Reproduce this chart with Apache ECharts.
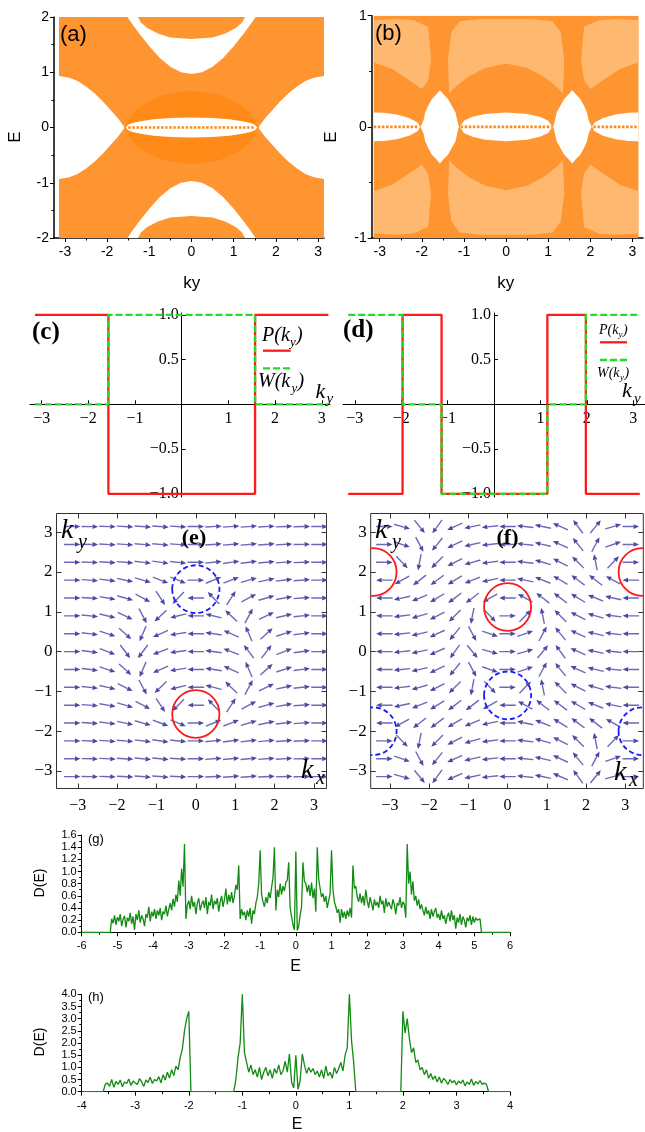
<!DOCTYPE html>
<html><head><meta charset="utf-8">
<script src="https://cdn.jsdelivr.net/npm/echarts@6/dist/echarts.min.js"></script>
<style>html,body{margin:0;padding:0;background:#fff;}#c{width:645px;height:1132px;}</style>
</head><body><div id="c"></div>
<script>
// ---------- (a) band regions (ky, E) ----------
const aSpanK = [-3.1416, 3.1416];
const aSpanE = [-2, 2];
const aLeftK = [-3.1416, -2.9, -2.7, -2.5, -2.3, -2.1, -1.9, -1.75, -1.6];
const aLeftTop = [0.93, 0.90, 0.84, 0.74, 0.62, 0.47, 0.30, 0.17, 0.02];
const aLeftBot = [-0.93, -0.90, -0.84, -0.74, -0.62, -0.47, -0.30, -0.17, -0.02];
const aRightK = [1.6, 1.75, 1.9, 2.1, 2.3, 2.5, 2.7, 2.9, 3.1416];
const aRightTop = [0.02, 0.17, 0.30, 0.47, 0.62, 0.74, 0.84, 0.90, 0.93];
const aRightBot = [-0.02, -0.17, -0.30, -0.47, -0.62, -0.74, -0.84, -0.90, -0.93];
const aBowlK = [-1.52, -1.4, -1.25, -1.0, -0.75, -0.5, -0.25, 0, 0.25, 0.5, 0.75, 1.0, 1.25, 1.4, 1.52];
const aBowlTop = [2.0, 1.87, 1.71, 1.47, 1.26, 1.10, 1.00, 0.97, 1.00, 1.10, 1.26, 1.47, 1.71, 1.87, 2.0];
const aBowlBot = [-2.0, -1.87, -1.71, -1.47, -1.26, -1.10, -1.00, -0.97, -1.00, -1.10, -1.26, -1.47, -1.71, -1.87, -2.0];
const aCapK = [-1.27, -1.2, -1.05, -0.8, -0.5, 0, 0.5, 0.8, 1.05, 1.2, 1.27];
const aCapTop = [2.0, 1.9, 1.8, 1.7, 1.63, 1.6, 1.63, 1.7, 1.8, 1.9, 2.0];
const aCapBot = [-2.0, -1.9, -1.8, -1.7, -1.63, -1.6, -1.63, -1.7, -1.8, -1.9, -2.0];
const aDomeK = [-1.57, -1.45, -1.25, -1.0, -0.7, -0.35, 0, 0.35, 0.7, 1.0, 1.25, 1.45, 1.57];
const aDomeTop = [0, 0.2, 0.36, 0.48, 0.58, 0.64, 0.66, 0.64, 0.58, 0.48, 0.36, 0.2, 0];
const aDomeBot = [0, -0.2, -0.36, -0.48, -0.58, -0.64, -0.66, -0.64, -0.58, -0.48, -0.36, -0.2, 0];
const aLensK = [-1.56, -1.5, -1.4, -1.2, -0.9, -0.5, 0, 0.5, 0.9, 1.2, 1.4, 1.5, 1.56];
const aLensTop = [0, 0.05, 0.08, 0.115, 0.15, 0.17, 0.18, 0.17, 0.15, 0.115, 0.08, 0.05, 0];
const aLensBot = [0, -0.05, -0.08, -0.115, -0.15, -0.17, -0.18, -0.17, -0.15, -0.115, -0.08, -0.05, 0];
const aFlatK = [-1.5, 1.5];
const aFlatE = [0, 0];

// ---------- (b) band regions ----------
const bSpanK = [-3.1416, 3.1416];
const bSpanE = [-1, 1];
const bU1K = [-1.35, -1.2, -0.9, -0.5, 0, 0.5, 0.9, 1.2, 1.35, 1.38, 1.3, 1.1, 0.6, 0, -0.6, -1.1, -1.3, -1.38];
const bU1E = [0.30, 0.36, 0.45, 0.53, 0.57, 0.53, 0.45, 0.36, 0.30, 0.6, 0.85, 0.95, 0.97, 0.97, 0.97, 0.95, 0.85, 0.6];
const bL1E = [-0.30, -0.36, -0.45, -0.53, -0.57, -0.53, -0.45, -0.36, -0.30, -0.6, -0.85, -0.95, -0.97, -0.97, -0.97, -0.95, -0.85, -0.6];
const bU2K = [-3.1416, -2.6, -2.2, -1.85, -1.78, -1.85, -2.0, -2.3, -2.7, -3.1416];
const bU3K = [3.1416, 2.6, 2.2, 1.85, 1.78, 1.85, 2.0, 2.3, 2.7, 3.1416];
const bU2E = [0.96, 0.97, 0.96, 0.9, 0.6, 0.42, 0.34, 0.42, 0.52, 0.58];
const bL2E = [-0.96, -0.97, -0.96, -0.9, -0.6, -0.42, -0.34, -0.42, -0.52, -0.58];
const bDiamLK = [-2.03, -1.96, -1.92, -1.85, -1.76, -1.66, -1.57, -1.48, -1.38, -1.29, -1.2, -1.16, -1.12];
const bDiamRK = [1.12, 1.16, 1.2, 1.29, 1.38, 1.48, 1.57, 1.66, 1.76, 1.85, 1.92, 1.96, 2.03];
const bDiamTop = [0, 0.06, 0.13, 0.19, 0.25, 0.29, 0.33, 0.29, 0.25, 0.19, 0.13, 0.06, 0];
const bDiamBot = [0, -0.06, -0.13, -0.19, -0.25, -0.29, -0.33, -0.29, -0.25, -0.19, -0.13, -0.06, 0];
const bLensCK = [-1.1, -1.0, -0.8, -0.5, 0, 0.5, 0.8, 1.0, 1.1];
const bLensCTop = [0, 0.055, 0.09, 0.115, 0.13, 0.115, 0.09, 0.055, 0];
const bLensCBot = [0, -0.055, -0.09, -0.115, -0.13, -0.115, -0.09, -0.055, 0];
const bLensLK = [-3.1416, -2.9, -2.6, -2.3, -2.1, -2.04];
const bLensRK = [3.1416, 2.9, 2.6, 2.3, 2.1, 2.04];
const bLensETop = [0.13, 0.127, 0.112, 0.08, 0.04, 0];
const bLensEBot = [-0.13, -0.127, -0.112, -0.08, -0.04, 0];
const bFlatSegK = [[-3.1416, -2.07], [-1.08, 1.08], [2.07, 3.1416]];

// ---------- (c), (d) step curves ----------
const cPK = [-3.1416, -1.571, -1.571, 1.571, 1.571, 3.1416];
const cPV = [1, 1, -1, -1, 1, 1];
const cWK = [-3.1416, -1.571, -1.571, 1.571, 1.571, 3.1416];
const cWV = [0, 0, 1, 1, 0, 0];
const dPK = [-3.1416, -1.97, -1.97, -1.13, -1.13, 1.15, 1.15, 1.98, 1.98, 3.1416];
const dPV = [-1, -1, 1, 1, -1, -1, 1, 1, -1, -1];
const dWK = [-3.1416, -1.97, -1.97, -1.13, -1.13, 1.15, 1.15, 1.98, 1.98, 3.1416];
const dWV = [1, 1, 0, 0, -1, -1, 0, 0, 1, 1];

// ---------- (e), (f) vector fields: grid points and arrow angles (deg) ----------
const gridK = [-3.1416, -2.6928, -2.2440, -1.7952, -1.3464, -0.8976, -0.4488, 0, 0.4488, 0.8976, 1.3464, 1.7952, 2.2440, 2.6928, 3.1416];
const eAngleRows = [
  [0,-1,-2,-3,-4,-4,-3,0,3,4,4,3,2,1,0],
  [0,-1,-3,-4,-5,-5,-4,0,4,5,5,4,3,1,0],
  [0,-2,-4,-5,-7,-8,-6,0,6,8,7,5,4,2,0],
  [0,-4,-7,-12,-16,-21,-22,0,22,21,16,12,7,4,0],
  [0,-4,-10,-16,-28,-57,-134,180,134,57,28,16,10,4,0],
  [0,-6,-13,-26,-62,-136,-166,180,166,136,62,26,13,6,0],
  [0,-7,-18,-42,-113,-156,-171,180,171,156,113,42,18,7,0],
  [0,-8,-21,-53,-127,-159,-172,180,172,159,127,53,21,8,0],
  [0,-7,-18,-42,-113,-156,-171,180,171,156,113,42,18,7,0],
  [0,-6,-13,-26,-62,-136,-166,180,166,136,62,26,13,6,0],
  [0,-4,-10,-16,-28,-57,-134,180,134,57,28,16,10,4,0],
  [0,-4,-7,-12,-16,-21,-22,0,22,21,16,12,7,4,0],
  [0,-2,-4,-5,-7,-8,-6,0,6,8,7,5,4,2,0],
  [0,-1,-3,-4,-5,-5,-4,0,4,5,5,4,3,1,0],
  [0,-1,-2,-3,-4,-4,-3,0,3,4,4,3,2,1,0]
];
const fAngleRows = [
  [0,-16,-51,-126,-156,-168,-174,180,174,168,156,126,51,16,0],
  [0,-19,-62,-129,-155,-167,-174,180,174,167,155,129,62,19,0],
  [0,-46,-101,-135,-153,-164,-173,180,173,164,153,135,101,46,0],
  [180,-151,-142,-143,-149,-158,-168,180,168,158,149,143,142,151,180],
  [180,-168,-158,-149,-143,-142,-151,180,151,142,143,149,158,168,180],
  [180,-173,-164,-153,-135,-101,-46,0,46,101,135,153,164,173,180],
  [180,-174,-167,-155,-129,-62,-19,0,19,62,129,155,167,174,180],
  [180,-174,-168,-156,-126,-51,-16,0,16,51,126,156,168,174,180],
  [180,-174,-167,-155,-129,-62,-19,0,19,62,129,155,167,174,180],
  [180,-173,-164,-153,-135,-101,-46,0,46,101,135,153,164,173,180],
  [180,-168,-158,-149,-143,-142,-151,180,151,142,143,149,158,168,180],
  [180,-151,-142,-143,-149,-158,-168,180,168,158,149,143,142,151,180],
  [0,-46,-101,-135,-153,-164,-173,180,173,164,153,135,101,46,0],
  [0,-19,-62,-129,-155,-167,-174,180,174,167,155,129,62,19,0],
  [0,-16,-51,-126,-156,-168,-174,180,174,168,156,126,51,16,0]
];
const circR = 0.6;
const eCircX = [0, 0], eCircY = [1.57, -1.57], eCircKind = ['blue', 'red'];
const fCircX = [0, 0, -3.43, 3.43, -3.43, 3.43], fCircY = [1.12, -1.1, 2, 2, -2, -2];
const fCircKind = ['red', 'blue', 'red', 'red', 'blue', 'blue'];

// ---------- (g), (h) density of states ----------
const gOuter = [-6, 6];
const gStart = -5.2, gStep = 0.04;
const gD = [
0,0.22,0.15,0.28,0.12,0.25,0.18,0.30,0.10,0.22,0.27,0.08,0.24,0.18,0.32,0.14,0.26,0.04,0.30,0.20,0.36,0.16,0.28,0.22,0.10,
0.30,0.24,0.42,0.18,0.34,0.26,0.38,0.22,0.36,0.28,0.40,0.20,0.34,0.30,0.44,0.26,0.38,0.48,0.36,0.55,0.42,0.62,0.50,0.85,0.60,
1.05,0.75,1.45,0.22,0.45,0.52,0.38,0.60,0.42,0.50,0.30,0.48,0.56,0.36,0.46,0.52,0.40,0.58,0.30,0.50,0.44,0.62,0.38,0.52,0.46,
0.56,0.34,0.50,0.60,0.42,0.54,0.72,0.46,0.62,0.50,0.66,0.48,0.60,0.78,0.70,1.10,0.22,0.38,0.28,0.34,0.20,0.36,0.26,0.40,0.14,
0.36,0.30,0.48,0.58,0.80,1.35,0.62,0.50,0.42,0.58,0.48,0.66,0.56,0.74,0.90,1.40,0.36,0.70,0.58,0.80,0.62,0.76,0.68,0.82,0.86,
1.15,0.40,0.26,0.12,0.04,1.33,0.03,0.10,0.28,0.42,1.15,0.84,0.80,0.66,0.78,0.60,0.82,0.56,0.72,0.34,1.40,0.88,0.72,0.58,0.64,
0.50,0.60,0.40,0.52,0.64,1.35,0.70,0.50,0.42,0.32,0.38,0.16,0.38,0.24,0.34,0.22,0.36,0.26,0.40,0.24,1.10,0.72,0.76,0.58,0.50,
0.64,0.48,0.60,0.44,0.70,0.52,0.40,0.58,0.48,0.36,0.54,0.44,0.50,0.40,0.60,0.46,0.52,0.32,0.56,0.42,0.50,0.44,0.38,0.54,0.46,
0.30,0.48,0.44,0.58,0.40,0.50,0.46,0.24,1.45,0.80,1.00,0.62,0.84,0.52,0.60,0.44,0.54,0.38,0.46,0.36,0.28,0.42,0.30,0.36,0.22,
0.38,0.26,0.34,0.40,0.24,0.30,0.20,0.36,0.22,0.28,0.14,0.26,0.32,0.18,0.36,0.20,0.28,0.06,0.24,0.16,0.30,0.12,0.26,0.20,0.08,
0.24,0.18,0.28,0.12,0.26,0.16,0.24,0.20,0.18,0.22,0
];
const hOuter = [-4, 4];
const hStart = -3.6, hStep = 0.04;
const hD = [
0,0.30,0.36,0.22,0.50,0.18,0.42,0.30,0.48,0.20,0.40,0.34,0.52,0.26,0.44,0.36,0.30,0.54,0.40,0.22,0.48,0.38,0.60,0.34,0.50,
0.44,0.62,0.36,0.70,0.48,0.80,0.56,0.90,0.66,1.05,0.90,1.40,1.75,2.50,3.00,3.30,0,0,0,0,0,0,0,0,0,
0,0,0,0,0,0,0,0,0,0,0,0,0.50,1.40,2.00,4.00,1.60,1.20,0.80,1.10,0.70,0.90,0.60,1.00,0.50,
0.80,1.00,0.65,0.90,0.55,0.95,0.75,1.10,0.70,0.85,1.25,0.80,1.55,0.40,0.15,1.50,0.10,0.45,1.55,1.10,0.75,1.00,0.80,0.95,0.70,
0.85,0.60,0.90,0.55,1.05,0.65,0.80,0.55,1.00,0.75,0.95,1.20,0.85,1.50,1.80,4.00,2.10,1.20,0,0,0,0,0,0,0,
0,0,0,0,0,0,0,0,0,0,0,0,0,0,0,3.30,2.40,3.00,2.20,1.60,1.80,1.20,1.30,0.90,1.00,
0.70,0.90,0.55,0.75,0.50,0.65,0.40,0.60,0.35,0.55,0.45,0.30,0.50,0.36,0.46,0.28,0.44,0.34,0.48,0.24,0.40,0.30,0.52,0.26,0.42,
0.32,0.46,0.30,0.36,0.30,0
];

// ---------- tick labels ----------
const tickAB_X = [-3, -2, -1, 0, 1, 2, 3];
const tickAB_Xminor = [-2.5, -1.5, -0.5, 0.5, 1.5, 2.5];
const tickA_Y = [-2, -1, 0, 1, 2];
const tickA_Yminor = [-1.5, -0.5, 0.5, 1.5];
const tickB_Y = [-1, 0, 1];
const tickB_Yminor = [-0.5, 0.5];
const tickCD_X = [-3, -2, -1, 1, 2, 3];
const tickCD_Y = [-1, -0.5, 0.5, 1];
const tickEF = [-3, -2, -1, 0, 1, 2, 3];

// ---------- build ----------
const SANS = '"Liberation Sans", Arial, sans-serif';
const SERIF = '"Liberation Serif", "Times New Roman", serif';
const OR_BG = '#ff9530', OR_DENSE = '#ff8a18', OR_LIGHT = '#ffb870';
const ARROW = '#4a4aa2';
const minusFmt = v => (v < 0 ? '\u2212' : '') + Math.abs(v);
const minusFmt1 = v => (v < 0 ? '\u2212' : '') + Math.abs(v).toFixed(1);

function polyS(gi, xs, ys, fill) {
  return { type: 'custom', xAxisIndex: gi, yAxisIndex: gi, clip: true, silent: true,
    data: [[xs[0], ys[0]]],
    renderItem: (p, api) => ({ type: 'polygon',
      shape: { points: xs.map((x, i) => api.coord([x, ys[i]])) },
      style: { fill: fill } }) };
}
function bandS(gi, K, top, bot, fill) {
  return polyS(gi, K.concat(K.slice().reverse()), top.concat(bot.slice().reverse()), fill);
}
function lineS(gi, xs, ys, color, width, dash) {
  return { type: 'line', xAxisIndex: gi, yAxisIndex: gi, symbol: 'none', silent: true,
    data: xs.map((x, i) => [x, ys[i]]),
    lineStyle: { color: color, width: width, type: dash || 'solid' } };
}
function arrowS(gi, rows) {
  const data = [];
  rows.forEach((row, r) => row.forEach((a, i) => data.push([gridK[i], gridK[r], a])));
  return { type: 'custom', xAxisIndex: gi, yAxisIndex: gi, clip: true, silent: true, data: data,
    renderItem: (p, api) => {
      const c = api.coord([api.value(0), api.value(1)]);
      const a = api.value(2) * Math.PI / 180;
      const L = 16.5, hl = 5.5, hw = 2.4;
      const ux = Math.cos(a), uy = -Math.sin(a);
      const x0 = c[0] - ux * L / 2, y0 = c[1] - uy * L / 2;
      const x1 = c[0] + ux * L / 2, y1 = c[1] + uy * L / 2;
      const bx = x1 - ux * hl, by = y1 - uy * hl;
      return { type: 'group', children: [
        { type: 'line', shape: { x1: x0, y1: y0, x2: bx, y2: by }, style: { stroke: '#6a6ab8', lineWidth: 1.4 } },
        { type: 'polygon', shape: { points: [[x1, y1], [bx - uy * hw, by + ux * hw], [bx + uy * hw, by - ux * hw]] }, style: { fill: ARROW } }
      ] };
    } };
}
function circS(gi, xs, ys, kinds) {
  return { type: 'custom', xAxisIndex: gi, yAxisIndex: gi, clip: true, silent: true,
    data: xs.map((x, i) => [x, ys[i], i]),
    renderItem: (p, api) => {
      const c = api.coord([api.value(0), api.value(1)]);
      const r = api.size([circR, circR]);
      const k = kinds[api.value(2)];
      return { type: 'ellipse', shape: { cx: c[0], cy: c[1], rx: r[0], ry: r[1] },
        style: { fill: 'none', stroke: k === 'red' ? '#ff1a1a' : '#1a1aff', lineWidth: 1.8,
          lineDash: k === 'red' ? null : [5, 3] } };
    } };
}
function ax(o) {
  return {
    type: 'value', gridIndex: o.g, min: o.min, max: o.max, position: o.pos,
    interval: o.interval, offset: o.offset || 0,
    splitLine: { show: false }, splitArea: { show: false },
    axisLine: { show: o.line !== false, onZero: false, lineStyle: { color: '#000', width: o.lw || 1 } },
    axisTick: { show: o.ticks !== false, customValues: Array.isArray(o.ticks) ? o.ticks : undefined,
      inside: !!o.inside, length: o.tl || 4, lineStyle: { color: o.tc || '#000', width: 1 } },
    axisLabel: { show: o.labels !== false, customValues: Array.isArray(o.labels) ? o.labels : undefined,
      margin: o.m == null ? 6 : o.m, formatter: o.fmt, color: '#000', fontFamily: o.ff || SANS, fontSize: o.fs || 12 },
    minorTick: { show: !!o.minor, splitNumber: o.minor || 5, length: 2.5, lineStyle: { color: '#000', width: 1 } }
  };
}
function gridBox(l, t, w, h, frame) {
  return { left: l, top: t, width: w, height: h, containLabel: false, outerBoundsMode: 'none',
    show: !!frame, borderColor: '#333', borderWidth: 1, backgroundColor: 'transparent' };
}

const grids = [
  gridBox(54, 17, 270, 221),
  gridBox(371.7, 15.7, 271.3, 222.3),
  gridBox(30, 313, 300, 184),
  gridBox(343, 313, 302, 184),
  gridBox(56.5, 513.5, 270, 275, true),
  gridBox(370.7, 513.5, 272.6, 275, true),
  gridBox(81.7, 835, 428.3, 97.3),
  gridBox(81.7, 994.3, 428.3, 97.4)
];
// (c),(d): axes cross at the origin (zero of y at 404.3px, zero of x at 181.7px / 494px)
const xAxes = [
  ax({ g: 0, min: -3.26, max: 3.1416, pos: 'bottom', lw: 1.5, ticks: tickAB_X, labels: tickAB_X, fs: 14, m: 7 }),
  ax({ g: 1, min: -3.19, max: 3.25, pos: 'bottom', lw: 1.5, ticks: tickAB_X, labels: tickAB_X, fs: 14, m: 7 }),
  ax({ g: 2, min: -3.25, max: 3.176, pos: 'bottom', offset: -92.7, ticks: tickCD_X, inside: true, labels: tickCD_X, fmt: minusFmt, ff: SERIF, fs: 16, m: 6 }),
  ax({ g: 3, min: -3.254, max: 3.254, pos: 'bottom', offset: -92.7, ticks: tickCD_X, inside: true, labels: tickCD_X, fmt: minusFmt, ff: SERIF, fs: 16, m: 6 }),
  ax({ g: 4, min: -3.54, max: 3.32, pos: 'bottom', line: false, ticks: tickEF, inside: true, tl: 5, tc: '#333', labels: tickEF, fmt: minusFmt, ff: SERIF, fs: 16, m: 9 }),
  ax({ g: 5, min: -3.49, max: 3.46, pos: 'bottom', line: false, ticks: tickEF, inside: true, tl: 5, tc: '#333', labels: tickEF, fmt: minusFmt, ff: SERIF, fs: 16, m: 9 }),
  ax({ g: 6, min: -6, max: 6, interval: 1, pos: 'bottom', minor: 2, fs: 11, m: 8 }),
  ax({ g: 7, min: -4, max: 4, interval: 1, pos: 'bottom', minor: 2, fs: 11, m: 9 }),
  ax({ g: 4, min: -3.54, max: 3.32, pos: 'top', line: false, ticks: tickEF, inside: true, tl: 5, tc: '#333', labels: false }),
  ax({ g: 5, min: -3.49, max: 3.46, pos: 'top', line: false, ticks: tickEF, inside: true, tl: 5, tc: '#333', labels: false }),
  ax({ g: 0, min: -3.26, max: 3.1416, pos: 'bottom', line: false, ticks: tickAB_Xminor, tl: 2.5, labels: false }),
  ax({ g: 1, min: -3.19, max: 3.25, pos: 'bottom', line: false, ticks: tickAB_Xminor, tl: 2.5, labels: false })
];
const yAxes = [
  ax({ g: 0, min: -2, max: 2, pos: 'left', lw: 1.5, ticks: tickA_Y, labels: tickA_Y, fs: 14, m: 5 }),
  ax({ g: 1, min: -1, max: 1, pos: 'left', lw: 1.5, ticks: tickB_Y, labels: tickB_Y, fs: 14, m: 5 }),
  ax({ g: 2, min: -1.036, max: 1.02, pos: 'left', offset: -151.7, ticks: tickCD_Y, inside: true, labels: tickCD_Y, fmt: minusFmt1, ff: SERIF, fs: 16, m: 3 }),
  ax({ g: 3, min: -1.036, max: 1.02, pos: 'left', offset: -151, ticks: tickCD_Y, inside: true, labels: tickCD_Y, fmt: minusFmt1, ff: SERIF, fs: 16, m: 3 }),
  ax({ g: 4, min: -3.44, max: 3.47, pos: 'left', line: false, ticks: tickEF, inside: true, tl: 5, tc: '#333', labels: tickEF, fmt: minusFmt, ff: SERIF, fs: 17, m: 4 }),
  ax({ g: 5, min: -3.44, max: 3.47, pos: 'left', line: false, ticks: tickEF, inside: true, tl: 5, tc: '#333', labels: tickEF, fmt: minusFmt, ff: SERIF, fs: 17, m: 4 }),
  ax({ g: 6, min: 0, max: 1.6, interval: 0.2, pos: 'left', minor: 2, fs: 11, m: 5, fmt: v => v.toFixed(1) }),
  ax({ g: 7, min: 0, max: 4, interval: 0.5, pos: 'left', minor: 2, fs: 11, m: 5, fmt: v => v.toFixed(1) }),
  ax({ g: 4, min: -3.44, max: 3.47, pos: 'right', line: false, ticks: tickEF, inside: true, tl: 5, tc: '#333', labels: false }),
  ax({ g: 5, min: -3.44, max: 3.47, pos: 'right', line: false, ticks: tickEF, inside: true, tl: 5, tc: '#333', labels: false }),
  ax({ g: 0, min: -2, max: 2, pos: 'left', line: false, ticks: tickA_Yminor, tl: 2.5, labels: false }),
  ax({ g: 1, min: -1, max: 1, pos: 'left', line: false, ticks: tickB_Yminor, tl: 2.5, labels: false })
];

const series = [];
// (a)
series.push(polyS(0, [aSpanK[0], aSpanK[1], aSpanK[1], aSpanK[0]], [aSpanE[0], aSpanE[0], aSpanE[1], aSpanE[1]], OR_BG));
series.push(bandS(0, aDomeK, aDomeTop, aDomeBot, OR_DENSE));
series.push(bandS(0, aLeftK, aLeftTop, aLeftBot, '#ffffff'));
series.push(bandS(0, aRightK, aRightTop, aRightBot, '#ffffff'));
series.push(polyS(0, aBowlK, aBowlTop, '#ffffff'));
series.push(polyS(0, aBowlK, aBowlBot, '#ffffff'));
series.push(polyS(0, aCapK, aCapTop, OR_BG));
series.push(polyS(0, aCapK, aCapBot, OR_BG));
series.push(bandS(0, aLensK, aLensTop, aLensBot, '#ffffff'));
series.push(lineS(0, aFlatK, aFlatE, OR_DENSE, 2.6, [2.5, 1.6]));
// (b)
series.push(polyS(1, [bSpanK[0], bSpanK[1], bSpanK[1], bSpanK[0]], [bSpanE[0], bSpanE[0], bSpanE[1], bSpanE[1]], OR_BG));
series.push(polyS(1, bU1K, bU1E, OR_LIGHT));
series.push(polyS(1, bU1K, bL1E, OR_LIGHT));
series.push(polyS(1, bU2K, bU2E, OR_LIGHT));
series.push(polyS(1, bU2K, bL2E, OR_LIGHT));
series.push(polyS(1, bU3K, bU2E, OR_LIGHT));
series.push(polyS(1, bU3K, bL2E, OR_LIGHT));
series.push(bandS(1, bDiamLK, bDiamTop, bDiamBot, '#ffffff'));
series.push(bandS(1, bDiamRK, bDiamTop, bDiamBot, '#ffffff'));
series.push(bandS(1, bLensCK, bLensCTop, bLensCBot, '#ffffff'));
series.push(bandS(1, bLensLK, bLensETop, bLensEBot, '#ffffff'));
series.push(bandS(1, bLensRK, bLensETop, bLensEBot, '#ffffff'));
bFlatSegK.forEach(seg => series.push(lineS(1, seg, [0, 0], OR_DENSE, 2.6, [2.5, 1.6])));
// (c), (d)
series.push(lineS(2, cPK, cPV, '#ff1a1a', 2.3));
series.push(lineS(2, cWK, cWV, '#22dd22', 2.3, [7, 3]));
series.push(lineS(3, dPK, dPV, '#ff1a1a', 2.3));
series.push(lineS(3, dWK, dWV, '#22dd22', 2.3, [7, 3]));
// (e), (f)
series.push(arrowS(4, eAngleRows));
series.push(circS(4, eCircX, eCircY, eCircKind));
series.push(arrowS(5, fAngleRows));
series.push(circS(5, fCircX, fCircY, fCircKind));
// (g), (h)
const gData = [[gOuter[0], 0]].concat(gD.map((d, k) => [+(gStart + k * gStep).toFixed(2), d])).concat([[gOuter[1], 0]]);
const hData = [[hOuter[0], 0]].concat(hD.map((d, k) => [+(hStart + k * hStep).toFixed(2), d])).concat([[hOuter[1], 0]]);
series.push({ type: 'line', xAxisIndex: 6, yAxisIndex: 6, symbol: 'none', silent: true, data: gData, lineStyle: { color: '#138a13', width: 1.3 } });
series.push({ type: 'line', xAxisIndex: 7, yAxisIndex: 7, symbol: 'none', silent: true, data: hData, lineStyle: { color: '#138a13', width: 1.3 } });

// ---------- text & legend graphics ----------
function T(x, y, text, font, align, va, rot) {
  return { type: 'text', x: x, y: y, rotation: rot || 0, z: 100, silent: true,
    style: { text: text, font: font, fill: '#000', align: align || 'left', verticalAlign: va || 'middle' } };
}
const it = s => 'italic ' + s + 'px ' + SERIF;
const gfx = [
  T(60, 35, '(a)', '22px ' + SANS), T(375, 34, '(b)', '22px ' + SANS),
  T(15, 137, 'E', '17px ' + SANS, 'center', 'middle', Math.PI / 2),
  T(331, 137, 'E', '17px ' + SANS, 'center', 'middle', Math.PI / 2),
  T(191.7, 283, 'ky', '17px ' + SANS, 'center'), T(505.8, 283, 'ky', '17px ' + SANS, 'center'),
  T(32, 333, '(c)', 'bold 25px ' + SERIF), T(343, 331, '(d)', 'bold 25px ' + SERIF),
  // legend (c)
  T(262, 336, 'P(k', it(20)), T(290, 343, 'y', it(13)), T(296, 336, ')', it(20)),
  T(258, 382, 'W(k', it(20)), T(291.5, 389, 'y', it(13)), T(297.5, 382, ')', it(20)),
  { type: 'line', z: 100, shape: { x1: 263, y1: 350.7, x2: 290.7, y2: 350.7 }, style: { stroke: '#ff1a1a', lineWidth: 2.3 } },
  { type: 'line', z: 100, shape: { x1: 263, y1: 368.3, x2: 290.7, y2: 368.3 }, style: { stroke: '#22dd22', lineWidth: 2.3, lineDash: [7, 3] } },
  T(315.5, 392, 'k', it(22)), T(326.5, 399, 'y', it(15)),
  // legend (d)
  T(599, 330, 'P(k', it(14)), T(618.5, 335, 'y', it(9)), T(623, 330, ')', it(14)),
  T(597, 373, 'W(k', it(14)), T(620, 378, 'y', it(9)), T(624.5, 373, ')', it(14)),
  { type: 'line', z: 100, shape: { x1: 600, y1: 342.3, x2: 627, y2: 342.3 }, style: { stroke: '#ff1a1a', lineWidth: 2.3 } },
  { type: 'line', z: 100, shape: { x1: 600, y1: 360, x2: 627, y2: 360 }, style: { stroke: '#22dd22', lineWidth: 2.3, lineDash: [7, 3] } },
  T(622, 391, 'k', it(22)), T(634, 399, 'y', it(15)),
  // (e), (f)
  T(61, 531, 'k', it(28)), T(78, 543, 'y', it(20)), T(194, 538, '(e)', 'bold 22px ' + SERIF, 'center'),
  T(301, 771, 'k', it(28)), T(316, 779, 'x', it(20)),
  T(375, 531, 'k', it(28)), T(392, 543, 'y', it(20)), T(507.5, 538, '(f)', 'bold 22px ' + SERIF, 'center'),
  T(614, 773, 'k', it(28)), T(629, 781, 'x', it(20)),
  // (g), (h)
  T(88, 839, '(g)', '13px ' + SANS), T(88, 997, '(h)', '13px ' + SANS),
  T(40, 883, 'D(E)', '14px ' + SANS, 'center', 'middle', Math.PI / 2),
  T(40, 1042, 'D(E)', '14px ' + SANS, 'center', 'middle', Math.PI / 2),
  T(295.7, 967, 'E', '16px ' + SANS, 'center'), T(297, 1125, 'E', '16px ' + SANS, 'center')
];

const chart = echarts.init(document.getElementById('c'), null, { renderer: 'canvas', width: 645, height: 1132 });
chart.setOption({
  animation: false, backgroundColor: '#ffffff',
  grid: grids, xAxis: xAxes, yAxis: yAxes, series: series,
  graphic: { elements: gfx }
});
</script></body></html>
